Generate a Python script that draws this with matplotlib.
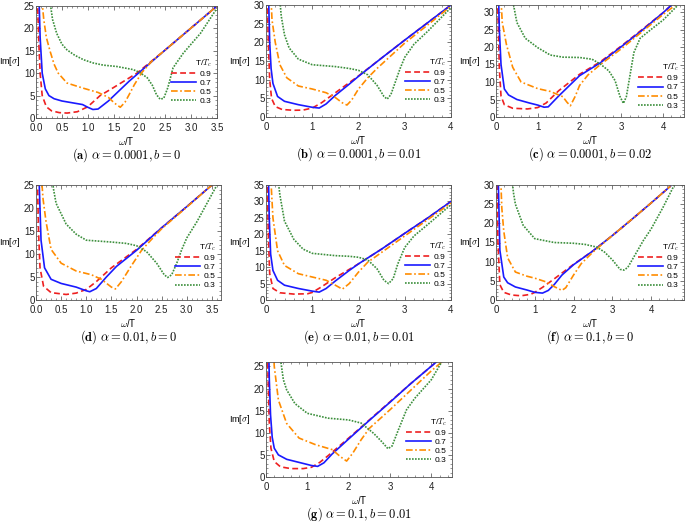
import matplotlib
matplotlib.use("Agg")
import matplotlib.pyplot as plt
from matplotlib.ticker import MultipleLocator, AutoMinorLocator

plt.rcParams['font.family'] = ['Liberation Sans', 'DejaVu Sans']
plt.rcParams['mathtext.fontset'] = 'cm'

labels = ['0.9', '0.7', '0.5', '0.3']
colors = ['#ee2020', '#1a1aff', '#ff8c00', '#3c8f3c']
styles = [(0, (3.5, 2)), '-', (0, (4, 1.5, 1, 1.5)), (0, (1, 0.8))]

# ---- (a) alpha = 0.0001, b = 0
a09_x = [0.02, 0.05, 0.08, 0.12, 0.2, 0.3, 0.45, 0.6, 0.8, 1.0, 1.24, 1.5, 1.95, 2.5, 3.0, 3.5]
a09_y = [30, 18, 10, 5, 2.5, 1.6, 1.2, 1.1, 1.4, 2.5, 5.0, 6.8, 10.0, 15.2, 20.1, 25.0]
a07_x = [0.05, 0.08, 0.12, 0.18, 0.25, 0.35, 0.5, 0.7, 0.9, 1.0, 1.1, 1.2, 1.4, 1.6, 1.8, 2.0, 2.5, 3.0, 3.5]
a07_y = [30, 18, 10, 6.5, 5.0, 4.3, 3.8, 3.4, 3.0, 2.4, 1.9, 2.0, 3.8, 6.0, 8.2, 10.2, 15.2, 20.1, 25.0]
a05_x = [0.1, 0.15, 0.2, 0.27, 0.35, 0.43, 0.6, 0.9, 1.2, 1.4, 1.52, 1.63, 1.72, 1.8, 1.9, 2.05, 2.25, 2.5, 3.0, 3.5]
a05_y = [28, 22, 18, 15, 12, 10, 7.8, 6.7, 5.7, 4.6, 3.3, 2.4, 3.5, 5.2, 7.4, 10.2, 12.8, 15.2, 20.1, 25.0]
a03_x = [0.27, 0.32, 0.4, 0.5, 0.6, 0.75, 0.92, 1.1, 1.3, 1.56, 1.88, 2.0, 2.15, 2.25, 2.33, 2.4, 2.47, 2.55, 2.65, 2.85, 3.18, 3.5]
a03_y = [26, 22, 18.9, 16.5, 15.2, 14, 13, 12.3, 11.8, 11.5, 10.8, 10.2, 9.0, 7.3, 5.2, 4.2, 4.4, 6.8, 11.2, 14.5, 18.9, 24.5]

# ---- (b) alpha = 0.0001, b = 0.01
b09_x = [0.02, 0.05, 0.08, 0.12, 0.2, 0.35, 0.6, 0.8, 1.0, 1.2, 1.5, 2.0, 2.5, 3.0, 3.5, 4.0]
b09_y = [35, 20, 10, 5, 2.8, 2.0, 1.8, 1.85, 2.4, 3.8, 6.5, 11, 15.8, 20.6, 25.3, 30]
b07_x = [0.05, 0.08, 0.11, 0.15, 0.25, 0.4, 0.7, 1.0, 1.15, 1.3, 1.5, 1.8, 2.0, 2.5, 3.0, 3.5, 4.0]
b07_y = [35, 20, 13, 9, 5.5, 4.2, 3.3, 2.6, 2.4, 3.5, 5.8, 8.8, 10.9, 15.8, 20.6, 25.3, 30]
b05_x = [0.1, 0.13, 0.2, 0.3, 0.45, 0.7, 1.0, 1.3, 1.5, 1.65, 1.75, 1.85, 2.0, 2.2, 2.4, 3.0, 3.5, 4.0]
b05_y = [34, 26, 20, 14, 10.5, 8.3, 7.5, 6.5, 5.2, 3.8, 3.2, 4.5, 7.5, 10.5, 13, 19.8, 24.7, 29.7]
b03_x = [0.28, 0.33, 0.4, 0.5, 0.7, 1.0, 1.5, 1.8, 2.0, 2.2, 2.4, 2.55, 2.62, 2.7, 2.8, 2.9, 3.0, 3.2, 3.5, 4.0]
b03_y = [34, 27, 22, 18.5, 15.5, 14, 13.5, 13, 12.5, 11.3, 8.5, 5.5, 4.8, 6, 9.5, 13, 16, 19.5, 23, 29.3]

# ---- (c) alpha = 0.0001, b = 0.02
c09_x = [0.02, 0.05, 0.08, 0.12, 0.2, 0.4, 0.75, 1.0, 1.2, 1.5, 2.0, 2.5, 3.0, 3.5, 4.0, 4.2]
c09_y = [40, 28, 14, 6, 3.5, 2.5, 2.3, 2.7, 4.0, 7.5, 12.2, 15.8, 20.3, 25, 29.8, 32]
c07_x = [0.05, 0.08, 0.12, 0.2, 0.3, 0.5, 0.8, 1.0, 1.15, 1.25, 1.5, 2.0, 2.5, 3.0, 3.5, 4.0, 4.2]
c07_y = [40, 25, 15, 8, 6.3, 5, 4, 3.4, 2.8, 2.9, 6.0, 11.8, 15.5, 20.1, 24.8, 29.8, 32]
c05_x = [0.1, 0.15, 0.25, 0.4, 0.6, 1.0, 1.3, 1.6, 1.7, 1.78, 1.9, 2.0, 2.2, 2.5, 3.0, 3.5, 4.0, 4.3]
c05_y = [38, 27, 20.7, 14.2, 10, 8.1, 7.3, 5.8, 4.2, 3.2, 6, 9, 12, 15, 19.5, 24.4, 29.3, 32]
c03_x = [0.4, 0.42, 0.5, 0.7, 1.0, 1.3, 1.6, 2.0, 2.3, 2.5, 2.7, 2.85, 2.97, 3.05, 3.12, 3.2, 3.3, 3.45, 3.7, 4.0, 4.35]
c03_y = [36, 32, 27, 22.5, 19.8, 17.7, 17.1, 17, 16.5, 15.1, 13.2, 10.4, 5.8, 3.9, 5.8, 11.4, 18.4, 22.5, 24.9, 27.7, 31.9]

# ---- (d) alpha = 0.01, b = 0
d09_x = [0.02, 0.05, 0.08, 0.15, 0.3, 0.6, 0.8, 1.0, 1.2, 1.5, 2.0, 2.5, 3.0, 3.5, 3.6]
d09_y = [30, 15, 7, 3, 1.6, 1.2, 1.5, 2.3, 4, 7, 11, 15.7, 20.3, 25, 26]
d07_x = [0.05, 0.1, 0.17, 0.3, 0.5, 0.8, 1.0, 1.07, 1.2, 1.4, 1.6, 2.0, 2.5, 3.0, 3.5, 3.6]
d07_y = [30, 13, 7, 4.5, 3.6, 2.8, 2.0, 1.8, 2.5, 5, 7.3, 10.8, 15.7, 20.3, 25, 26]
d05_x = [0.1, 0.14, 0.2, 0.3, 0.5, 0.8, 1.1, 1.3, 1.5, 1.58, 1.7, 1.9, 2.1, 2.3, 2.5, 3.0, 3.5, 3.6]
d05_y = [28, 22, 17, 11, 8, 6.3, 5.5, 4.5, 2.8, 2.4, 4, 7.5, 10.8, 13.2, 15.5, 20.2, 25, 26]
d03_x = [0.3, 0.35, 0.4, 0.6, 0.8, 1.0, 1.5, 1.8, 2.0, 2.2, 2.4, 2.55, 2.62, 2.7, 2.8, 2.9, 3.0, 3.2, 3.4, 3.6]
d03_y = [28, 24, 21, 16.5, 14.3, 13, 12.6, 12.3, 11.8, 10.5, 8, 5.5, 4.9, 5.5, 8, 11, 13.5, 17, 21, 25]

# ---- (e) alpha = 0.01, b = 0.01
e09_x = [0.02, 0.05, 0.08, 0.15, 0.3, 0.6, 0.9, 1.0, 1.2, 1.5, 2.0, 2.5, 3.0, 3.5, 4.0]
e09_y = [40, 20, 8, 3.5, 2.2, 1.8, 1.9, 2.3, 4, 6.8, 11, 15.5, 20.3, 25, 30]
e07_x = [0.05, 0.07, 0.1, 0.15, 0.25, 0.4, 0.7, 1.0, 1.15, 1.3, 1.5, 1.8, 2.0, 2.5, 3.0, 3.5, 4.0]
e07_y = [40, 25, 14, 9, 6, 4.5, 3.5, 2.7, 2.4, 3.5, 5.8, 9, 11, 15.5, 20.3, 25, 30]
e05_x = [0.1, 0.15, 0.25, 0.4, 0.7, 1.0, 1.3, 1.5, 1.65, 1.8, 2.0, 2.2, 2.5, 3.0, 3.5, 4.0]
e05_y = [38, 25, 15, 10.5, 8, 7, 6, 4.5, 3.3, 5, 8.5, 11.5, 14.5, 19.5, 24.5, 29.5]
e03_x = [0.25, 0.3, 0.4, 0.6, 0.8, 1.0, 1.5, 1.8, 2.0, 2.2, 2.4, 2.55, 2.65, 2.75, 2.85, 3.0, 3.2, 3.5, 4.0]
e03_y = [38, 32, 24, 18.5, 15.5, 14.2, 13.5, 13.3, 13, 12.2, 9.5, 6, 5, 6.5, 11, 16, 19.5, 23, 29]

# ---- (f) alpha = 0.1, b = 0
f09_x = [0.02, 0.05, 0.1, 0.2, 0.4, 0.65, 0.9, 1.0, 1.2, 1.5, 2.0, 2.5, 3.0, 3.5, 4.0, 4.5]
f09_y = [35, 15, 4, 2, 1.3, 1.1, 1.5, 2.0, 3.3, 5.5, 9.3, 12.8, 16.8, 21, 25.3, 29.7]
f07_x = [0.05, 0.1, 0.2, 0.3, 0.5, 0.8, 1.0, 1.2, 1.35, 1.5, 1.7, 2.0, 2.5, 3.0, 3.5, 4.0, 4.5]
f07_y = [35, 13, 6, 4.5, 3.4, 2.6, 2.0, 1.8, 2.5, 4, 6.5, 9.2, 12.8, 16.8, 21, 25.3, 29.7]
f05_x = [0.11, 0.15, 0.2, 0.3, 0.5, 0.8, 1.0, 1.3, 1.5, 1.7, 1.8, 2.0, 2.2, 2.5, 3.0, 3.5, 4.0, 4.5]
f05_y = [35, 24, 18, 11, 7.3, 6.2, 5.7, 4.7, 3.5, 2.5, 3.2, 6.5, 9.5, 12.5, 16.8, 21, 25.3, 29.7]
f03_x = [0.38, 0.45, 0.5, 0.7, 1.0, 1.5, 2.0, 2.3, 2.6, 2.8, 3.0, 3.2, 3.3, 3.4, 3.6, 3.8, 4.0, 4.3, 4.6]
f03_y = [35, 28, 25, 19.5, 16, 15, 14.8, 14.5, 13.8, 12.5, 10.5, 8, 7.8, 8.5, 12, 15.5, 18.5, 24, 30]

# ---- (g) alpha = 0.1, b = 0.01
g09_x = [0.03, 0.05, 0.08, 0.12, 0.2, 0.35, 0.6, 0.9, 1.1, 1.3, 1.5, 2.0, 2.5, 3.0, 3.5, 4.12]
g09_y = [32, 22, 12, 6.5, 3.5, 2.3, 1.9, 1.9, 2.2, 3.3, 4.8, 8.8, 12.9, 17, 21.1, 26]
g07_x = [0.06, 0.08, 0.11, 0.15, 0.2, 0.3, 0.5, 0.8, 1.1, 1.25, 1.4, 1.6, 2.0, 2.5, 3.0, 3.5, 4.12]
g07_y = [32, 22, 14, 9, 6.5, 5, 4, 3.3, 2.6, 2.4, 3.2, 5.2, 8.6, 12.8, 16.9, 21.1, 26]
g05_x = [0.16, 0.2, 0.3, 0.5, 0.8, 1.2, 1.6, 1.8, 1.95, 2.1, 2.3, 2.5, 3.0, 3.5, 4.0, 4.25]
g05_y = [32, 25, 17.4, 12.1, 8.8, 7.3, 6.2, 4.6, 3.6, 5.4, 8.4, 11, 15.2, 19.6, 24, 26]
g03_x = [0.33, 0.36, 0.42, 0.5, 0.7, 1.0, 1.5, 2.0, 2.3, 2.6, 2.8, 2.95, 3.05, 3.2, 3.4, 3.6, 4.0, 4.25]
g03_y = [32, 26, 22, 19.7, 16.6, 14.4, 13.3, 12.9, 12.2, 9.9, 8.0, 6.4, 7.0, 10.6, 15.2, 17.8, 22, 26]

W, H = 685, 524
fig = plt.figure(figsize=(6.85, 5.24), dpi=100)


def panel(box, curves, xmax, ymax, xstep, ystep, xfmt, caption, leg_y):
    l, t, r, b = box
    ax = fig.add_axes([l / W, 1 - b / H, (r - l) / W, (b - t) / H])
    for (x, y), lab, c, ls in zip(curves, labels, colors, styles):
        ax.plot(x, y, color=c, linestyle=ls, lw=1.2, label=lab)
    ax.set_xlim(0, xmax)
    ax.set_ylim(0, ymax)
    ax.xaxis.set_major_locator(MultipleLocator(xstep))
    ax.yaxis.set_major_locator(MultipleLocator(ystep))
    ax.xaxis.set_minor_locator(AutoMinorLocator(5))
    ax.yaxis.set_minor_locator(AutoMinorLocator(5))
    ax.xaxis.set_major_formatter(xfmt)
    ax.tick_params(which='both', direction='in', top=True, right=True,
                   labelsize=7, colors='#444444', labelcolor='#222222')
    ax.tick_params(axis='x', pad=3.5)
    ax.tick_params(axis='y', pad=1)
    ax.tick_params(which='major', length=3, width=0.5)
    ax.tick_params(which='minor', length=1.6, width=0.4)
    for s in ax.spines.values():
        s.set_color('#555555')
        s.set_linewidth(0.6)
    leg = ax.legend(title='T/$T_c$', loc='center right', bbox_to_anchor=(1.0, leg_y),
                    frameon=False, fontsize=6, title_fontsize=6, handlelength=3.0,
                    handletextpad=0.4, labelspacing=0.15, borderaxespad=0.25)
    leg._legend_box.align = 'right'
    leg._legend_box.sep = 1
    wpx = r - l
    ax.text(-15 / wpx, 0.5, 'Im[$\\sigma$]', transform=ax.transAxes,
            ha='right', va='center', fontsize=6.5)
    ax.annotate('$\\omega$/T', xy=(0.5, 0), xycoords='axes fraction',
                xytext=(0, -23 * 0.72), textcoords='offset points',
                ha='center', va='center', fontsize=7)
    ax.annotate(caption, xy=(0.5, 0), xycoords='axes fraction',
                xytext=(0, -37 * 0.72), textcoords='offset points',
                ha='center', va='center', fontsize=9)
    return ax


def f1(v, p):
    return '%.1f' % v


def f0(v, p):
    return '%d' % v


panel((36, 6, 217, 118), [(a09_x, a09_y), (a07_x, a07_y), (a05_x, a05_y), (a03_x, a03_y)],
      3.5, 25, 0.5, 5, f1, r'$\mathbf{(a)}\ \alpha = 0.0001, b = 0$', 0.33)
panel((266, 5, 451, 117), [(b09_x, b09_y), (b07_x, b07_y), (b05_x, b05_y), (b03_x, b03_y)],
      4, 30, 1, 5, f0, r'$\mathbf{(b)}\ \alpha = 0.0001, b = 0.01$', 0.33)
panel((496, 5, 684, 117), [(c09_x, c09_y), (c07_x, c07_y), (c05_x, c05_y), (c03_x, c03_y)],
      4.5, 32, 1, 5, f0, r'$\mathbf{(c)}\ \alpha = 0.0001, b = 0.02$', 0.28)
panel((36, 185, 221, 300), [(d09_x, d09_y), (d07_x, d07_y), (d05_x, d05_y), (d03_x, d03_y)],
      3.68, 25, 0.5, 5, f1, r'$\mathbf{(d)}\ \alpha = 0.01, b = 0$', 0.30)
panel((266, 185, 451, 300), [(e09_x, e09_y), (e07_x, e07_y), (e05_x, e05_y), (e03_x, e03_y)],
      4, 35, 1, 5, f0, r'$\mathbf{(e)}\ \alpha = 0.01, b = 0.01$', 0.31)
panel((496, 185, 684, 300), [(f09_x, f09_y), (f07_x, f07_y), (f05_x, f05_y), (f03_x, f03_y)],
      4.85, 30, 1, 5, f0, r'$\mathbf{(f)}\ \alpha = 0.1, b = 0$', 0.30)
panel((266, 362, 452, 477), [(g09_x, g09_y), (g07_x, g07_y), (g05_x, g05_y), (g03_x, g03_y)],
      4.5, 26, 1, 5, f0, r'$\mathbf{(g)}\ \alpha = 0.1, b = 0.01$', 0.32)

fig.savefig('out.png', dpi=100)
